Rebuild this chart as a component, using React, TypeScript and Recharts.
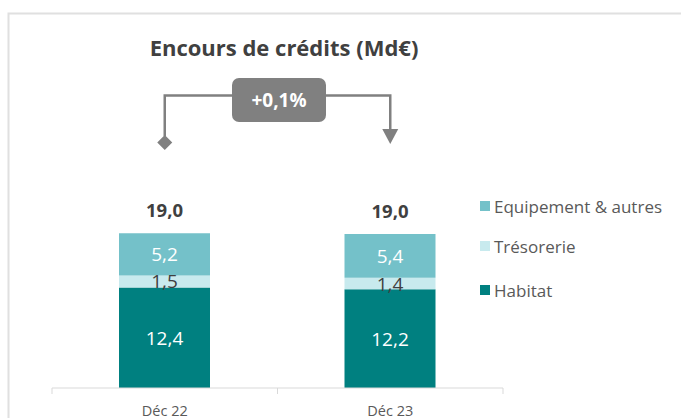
import React from 'react';
import { BarChart, Bar, XAxis, YAxis, LabelList } from 'recharts';

const categories = ['Déc 22', 'Déc 23'];
const habitat = [12.4, 12.2];
const tresorerie = [1.5, 1.4];
const equipement = [5.2, 5.4];
const totals = [19.0, 19.0];
const evolutionLabel = '+0,1%';
const chartTitle = 'Encours de crédits (Md€)';

const seriesNames = { habitat: 'Habitat', tresorerie: 'Trésorerie', equipement: 'Equipement & autres' };
const COLORS = { habitat: '#008080', tresorerie: '#c8eaee', equipement: '#74c1c9' };

const data = categories.map((c, i) => ({
  cat: c,
  habitat: habitat[i],
  tresorerie: tresorerie[i],
  equipement: equipement[i],
  total: totals[i],
}));

const FONT = '"Open Sans", sans-serif';
const W = 681;
const H = 418;
const MARGIN = { top: 226, right: 178, bottom: 0, left: 52 };
const PLOT_W = W - MARGIN.left - MARGIN.right;
const BAND = PLOT_W / categories.length;

const fmt = (v: number) => Number(v).toFixed(1).replace('.', ',');

const makeInnerLabel = (color: string) => (props: any) => {
  const { x, y, width, height, value } = props;
  return (
    <text
      x={Number(x) + Number(width) / 2}
      y={Number(y) + Number(height) / 2}
      textAnchor="middle"
      dominantBaseline="central"
      fill={color}
      fontFamily={FONT}
      fontSize={19}
    >
      {fmt(value)}
    </text>
  );
};

const TotalLabel = (props: any) => {
  const { x, y, width, value } = props;
  return (
    <text
      x={Number(x) + Number(width) / 2}
      y={Number(y) - 24}
      textAnchor="middle"
      dominantBaseline="central"
      fill="#404040"
      fontFamily={FONT}
      fontWeight="bold"
      fontSize={18.5}
    >
      {fmt(value)}
    </text>
  );
};

const Tick = (props: any) => {
  const { x, y, payload, index } = props;
  const half = BAND / 2;
  return (
    <g>
      <line x1={x - half} x2={x - half} y1={y - 8} y2={y - 2} stroke="#d9d9d9" strokeWidth={1} />
      {index === categories.length - 1 && (
        <line x1={x + half} x2={x + half} y1={y - 8} y2={y - 2} stroke="#d9d9d9" strokeWidth={1} />
      )}
      <text x={x} y={y + 14} textAnchor="middle" dominantBaseline="central" fill="#595959" fontFamily={FONT} fontSize={14.5}>
        {payload.value}
      </text>
    </g>
  );
};

const legendItems = [
  { key: 'equipement', y: 0 },
  { key: 'tresorerie', y: 40 },
  { key: 'habitat', y: 84 },
];

const LegendBox = () => (
  <div style={{ position: 'absolute', left: 480, top: 196, width: 200, height: 100 }}>
    {legendItems.map((it) => (
      <div
        key={it.key}
        style={{
          position: 'absolute',
          top: it.y,
          left: 0,
          height: 20,
          display: 'flex',
          alignItems: 'center',
          fontFamily: FONT,
          fontSize: 17,
          color: '#595959',
          whiteSpace: 'nowrap',
        }}
      >
        <span style={{ display: 'inline-block', width: 10, height: 10, background: (COLORS as any)[it.key], marginRight: 4 }} />
        {(seriesNames as any)[it.key]}
      </div>
    ))}
  </div>
);

export default function App() {
  const c0 = MARGIN.left + BAND / 2;
  const c1 = MARGIN.left + BAND * 1.5;
  const lineY = 95.5;
  return (
    <div style={{ position: 'absolute', left: 0, top: 0, width: W, height: H, background: '#fff' }}>
      <BarChart width={W} height={H} data={data} margin={MARGIN} barSize={91}>
        <XAxis
          dataKey="cat"
          height={30}
          axisLine={{ stroke: '#d9d9d9' }}
          tickLine={false}
          tick={<Tick />}
          interval={0}
        />
        <YAxis hide domain={[0, 20]} />
        <Bar dataKey="habitat" name={seriesNames.habitat} stackId="a" fill={COLORS.habitat} isAnimationActive={false}>
          <LabelList dataKey="habitat" content={makeInnerLabel('#ffffff')} />
        </Bar>
        <Bar dataKey="tresorerie" name={seriesNames.tresorerie} stackId="a" fill={COLORS.tresorerie} isAnimationActive={false}>
          <LabelList dataKey="tresorerie" content={makeInnerLabel('#404040')} />
        </Bar>
        <Bar dataKey="equipement" name={seriesNames.equipement} stackId="a" fill={COLORS.equipement} isAnimationActive={false}>
          <LabelList dataKey="equipement" content={makeInnerLabel('#ffffff')} />
          <LabelList dataKey="total" content={TotalLabel} />
        </Bar>
      </BarChart>
      <LegendBox />
      <svg width={W} height={H} style={{ position: 'absolute', left: 0, top: 0, pointerEvents: 'none' }}>
        <path d={`M8.5,${H} V13.5 H${W}`} fill="none" stroke="#e0e0e0" strokeWidth={2} />
        <text x={284} y={47} textAnchor="middle" dominantBaseline="central" fill="#404040" fontFamily={FONT} fontWeight="bold" fontSize={22}>
          {chartTitle}
        </text>
        <path d={`M${c0},136 V${lineY} H${c1} V130`} fill="none" stroke="#808080" strokeWidth={2.5} />
        <path d={`M${c0},135 L${c0 + 7.5},142.5 L${c0},150 L${c0 - 7.5},142.5 Z`} fill="#808080" />
        <path d={`M${c1 - 8},129 L${c1 + 8},129 L${c1},144 Z`} fill="#808080" />
        <rect x={232} y={78} width={94} height={44} rx={7} ry={7} fill="#808080" />
        <text x={279} y={100} textAnchor="middle" dominantBaseline="central" fill="#ffffff" fontFamily={FONT} fontWeight="bold" fontSize={19}>
          {evolutionLabel}
        </text>
      </svg>
    </div>
  );
}
